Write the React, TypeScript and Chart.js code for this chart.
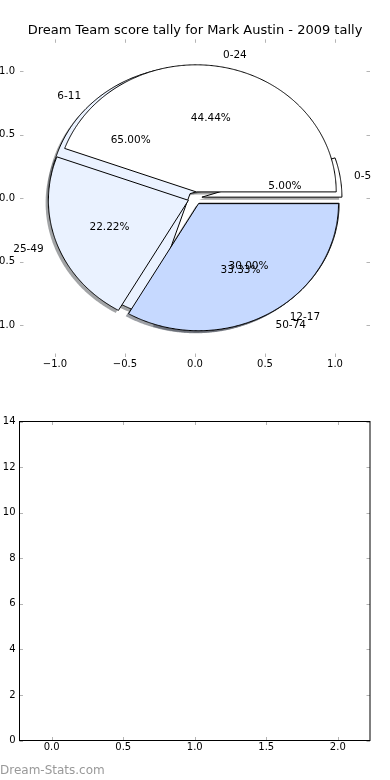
import React, { useEffect, useRef } from 'react';
import { Chart, registerables } from 'chart.js';

Chart.register(...registerables);

const TITLE = 'Dream Team score tally for Mark Austin - 2009 tally';
const WATERMARK = 'Dream-Stats.com';

// first pie (drawn underneath)
const pie1Labels = ['0-5', '6-11', '12-17'];
const pie1Values = [5, 65, 30];
// second pie (drawn on top)
const pie2Labels = ['0-24', '25-49', '50-74'];
const pie2Values = [44.44, 22.22, 33.33];
const sliceColors = ['#ffffff', '#eaf2ff', '#c6d9ff'];

const pieXTicks = [-1, -0.5, 0, 0.5, 1];
const pieYTicks = [-1, -0.5, 0, 0.5, 1];
const emptyXTicks = [0, 0.5, 1, 1.5, 2];
const emptyYTicks = [0, 2, 4, 6, 8, 10, 12, 14];

const FONT = 'DejaVu Sans';
const EXPLODE = 0.05;
const RADIUS = 1;
const LABEL_DIST = 1.1;
const PCT_DIST = 0.6;

const fmt1 = (v: number) => v.toFixed(1).replace('-', '\u2212');

const insideTicks = (frame: boolean) => ({
  id: 'insideTicks',
  afterDraw(chart: any) {
    const { ctx, chartArea: a, scales } = chart;
    ctx.save();
    ctx.strokeStyle = '#b4b4b4';
    ctx.lineWidth = 1;
    const L = 3.5;
    scales.x.ticks.forEach((t: any) => {
      const px = Math.round(scales.x.getPixelForValue(t.value)) + 0.5;
      ctx.beginPath();
      ctx.moveTo(px, a.bottom); ctx.lineTo(px, a.bottom - L);
      ctx.moveTo(px, a.top); ctx.lineTo(px, a.top + L);
      ctx.stroke();
    });
    scales.y.ticks.forEach((t: any) => {
      const py = Math.round(scales.y.getPixelForValue(t.value)) + 0.5;
      ctx.beginPath();
      ctx.moveTo(a.left, py); ctx.lineTo(a.left + L, py);
      ctx.moveTo(a.right, py); ctx.lineTo(a.right - L, py);
      ctx.stroke();
    });
    if (frame) {
      ctx.strokeStyle = '#000';
      ctx.strokeRect(a.left, a.top, a.right - a.left, a.bottom - a.top);
    }
    ctx.restore();
  },
});

const piePlugin = {
  id: 'pies',
  afterDatasetsDraw(chart: any) {
    const { ctx } = chart;
    const xs = chart.scales.x;
    const ys = chart.scales.y;
    const pies = [
      { labels: pie1Labels, values: pie1Values },
      { labels: pie2Labels, values: pie2Values },
    ];
    const wedges: any[] = [];
    pies.forEach((p) => {
      const total = p.values.reduce((s, v) => s + v, 0);
      let start = 0;
      p.values.forEach((v, i) => {
        const sweep = (v / total) * 360;
        const mid = ((start + sweep / 2) * Math.PI) / 180;
        wedges.push({
          cx: EXPLODE * Math.cos(mid),
          cy: EXPLODE * Math.sin(mid),
          a0: start,
          a1: start + sweep,
          mid,
          color: sliceColors[i],
          label: p.labels[i],
          pct: (v / total) * 100,
        });
        start += sweep;
      });
    });
    const path = (w: any, ox: number, oy: number) => {
      ctx.beginPath();
      ctx.moveTo(xs.getPixelForValue(w.cx + ox), ys.getPixelForValue(w.cy + oy));
      const n = Math.max(4, Math.ceil((w.a1 - w.a0) * 2));
      for (let k = 0; k <= n; k++) {
        const ang = ((w.a0 + ((w.a1 - w.a0) * k) / n) * Math.PI) / 180;
        ctx.lineTo(
          xs.getPixelForValue(w.cx + ox + RADIUS * Math.cos(ang)),
          ys.getPixelForValue(w.cy + oy + RADIUS * Math.sin(ang))
        );
      }
      ctx.closePath();
    };
    const hexToShadow = (hex: string) => {
      const r = parseInt(hex.slice(1, 3), 16) * 0.3;
      const g = parseInt(hex.slice(3, 5), 16) * 0.3;
      const b = parseInt(hex.slice(5, 7), 16) * 0.3;
      return `rgba(${r},${g},${b},0.5)`;
    };
    ctx.save();
    wedges.forEach((w) => {
      path(w, -0.02, -0.02);
      ctx.fillStyle = hexToShadow(w.color);
      ctx.fill();
    });
    wedges.forEach((w) => {
      path(w, 0, 0);
      ctx.fillStyle = w.color;
      ctx.fill();
      ctx.strokeStyle = '#000';
      ctx.lineWidth = 1;
      ctx.lineJoin = 'miter';
      ctx.stroke();
    });
    ctx.fillStyle = '#000';
    ctx.font = `10.5px "${FONT}"`;
    ctx.textBaseline = 'middle';
    wedges.forEach((w) => {
      const lx = w.cx + LABEL_DIST * RADIUS * Math.cos(w.mid);
      const ly = w.cy + LABEL_DIST * RADIUS * Math.sin(w.mid);
      ctx.textAlign = lx > 0 ? 'left' : 'right';
      ctx.fillText(w.label, xs.getPixelForValue(lx), ys.getPixelForValue(ly) + 1);
      const px = w.cx + PCT_DIST * RADIUS * Math.cos(w.mid);
      const py = w.cy + PCT_DIST * RADIUS * Math.sin(w.mid);
      ctx.textAlign = 'center';
      ctx.fillText(w.pct.toFixed(2) + '%', xs.getPixelForValue(px), ys.getPixelForValue(py) + 1);
    });
    ctx.restore();
  },
};

function axis(min: number, max: number, ticks: number[], fmt: (v: number) => string, size: number, pad: number, isY: boolean) {
  return {
    type: 'linear' as const,
    min,
    max,
    afterBuildTicks: (s: any) => {
      s.ticks = ticks.map((v) => ({ value: v }));
    },
    afterFit: (s: any) => {
      if (isY) s.width = size;
      else s.height = size;
    },
    grid: { display: false, drawTicks: false },
    border: { display: false },
    ticks: {
      padding: pad,
      autoSkip: false,
      maxRotation: 0,
      color: '#000',
      font: { family: FONT, size: 10 },
      callback: (v: any) => fmt(Number(v)),
    },
  };
}

// invisible right-hand spacer axis so the full-width title centres on the plot area
function spacer(width: number) {
  return {
    type: 'linear' as const,
    position: 'right' as const,
    display: true,
    afterFit: (s: any) => {
      s.width = width;
    },
    grid: { display: false, drawTicks: false },
    border: { display: false },
    ticks: { display: false },
  };
}

export default function App() {
  const topRef = useRef<HTMLCanvasElement>(null);
  const botRef = useRef<HTMLCanvasElement>(null);

  useEffect(() => {
    const top = new Chart(topRef.current!, {
      type: 'scatter',
      data: { datasets: [{ data: [] }] },
      options: {
        animation: false,
        responsive: false,
        devicePixelRatio: 1,
        layout: { padding: { left: 0, right: 0, top: 0, bottom: 0 } },
        plugins: {
          legend: { display: false },
          tooltip: { enabled: false },
          title: {
            display: true,
            text: TITLE,
            color: '#000',
            font: { family: FONT, size: 13, weight: 'normal' },
            padding: { top: 22.5, bottom: 1.2 },
          },
        },
        scales: {
          x: axis(-1.25, 1.25, pieXTicks, fmt1, 43, 1, false),
          y: axis(-1.25, 1.25, pieYTicks, fmt1, 20, 5, true),
          yr: spacer(20),
        },
      },
      plugins: [piePlugin, insideTicks(false)],
    });
    const bot = new Chart(botRef.current!, {
      type: 'scatter',
      data: { datasets: [{ data: [] }] },
      options: {
        animation: false,
        responsive: false,
        devicePixelRatio: 1,
        layout: { padding: { left: 0, right: 20, top: 21.5, bottom: 0 } },
        plugins: { legend: { display: false }, tooltip: { enabled: false } },
        scales: {
          x: axis(-0.225, 2.225, emptyXTicks, fmt1, 39.5, 1, false),
          y: axis(0, 14, emptyYTicks, (v) => String(v), 19.5, 4, true),
        },
      },
      plugins: [insideTicks(true)],
    });
    return () => {
      top.destroy();
      bot.destroy();
    };
  }, []);

  return (
    <div style={{ position: 'absolute', left: 0, top: 0, width: 390, height: 780, background: '#fff', overflow: 'hidden' }}>
      <canvas ref={topRef} width={390} height={400} style={{ position: 'absolute', left: 0, top: 0, width: 390, height: 400 }} />
      <canvas ref={botRef} width={390} height={380} style={{ position: 'absolute', left: 0, top: 400, width: 390, height: 380 }} />
      <div
        style={{
          position: 'absolute',
          left: 0,
          top: 762,
          fontFamily: FONT,
          fontSize: 12,
          lineHeight: '16px',
          color: '#999',
          whiteSpace: 'nowrap',
        }}
      >
        {WATERMARK}
      </div>
    </div>
  );
}
